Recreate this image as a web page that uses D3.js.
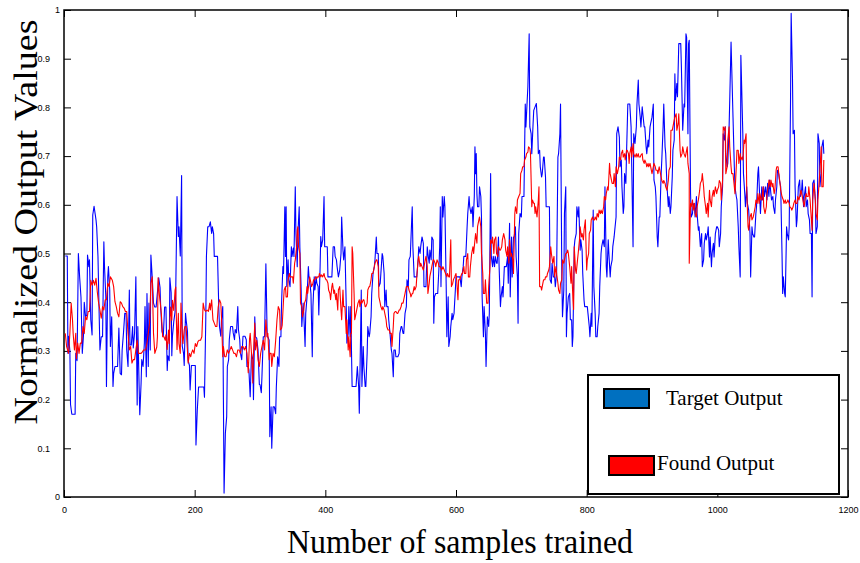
<!DOCTYPE html>
<html>
<head>
<meta charset="utf-8">
<script src="https://cdn.jsdelivr.net/npm/d3@7"></script>
<style>
body { margin: 0; background: #fff; }
svg { display: block; }
</style>
</head>
<body>
<div id="chart"></div>
<script>
// tick values and labels
let xTicks = [0, 200, 400, 600, 800, 1000, 1200];
let yTicks = [0, 0.1, 0.2, 0.3, 0.4, 0.5, 0.6, 0.7, 0.8, 0.9, 1];
let yTickLabels = ["0", "0.1", "0.2", "0.3", "0.4", "0.5", "0.6", "0.7", "0.8", "0.9", "1"];
let seriesNames = ["Target Output", "Found Output"];

// [sample, value]
let target = [
[2,.495],[5,.495],[6,.295],[7,.33],[9,.30],[10,.19],[12,.17],[17,.17],[18,.295],[20,.28],[22,.50],[24,.45],[26,.41],[28,.295],[30,.336],[31,.40],[33,.37],[35,.374],[36,.497],[38,.473],[39,.487],[41,.364],[43,.333],[44,.579],[46,.597],[49,.569],[50,.555],[52,.494],[54,.364],[55,.302],[57,.329],[59,.329],[60,.425],[61,.524],[62,.473],[64,.411],[65,.227],[67,.452],[68,.473],[70,.425],[71,.309],[73,.37],[75,.227],[76,.254],[78,.268],[80,.268],[82,.268],[84,.347],[86,.254],[88,.251],[89,.302],[91,.336],[93,.377],[95,.377],[96,.302],[98,.268],[100,.425],[101,.312],[103,.312],[105,.35],[106,.306],[108,.336],[110,.452],[112,.189],[113,.35],[115,.227],[116,.169],[118,.234],[119,.282],[121,.268],[123,.316],[124,.391],[126,.247],[127,.418],[129,.268],[130,.398],[132,.302],[133,.497],[135,.452],[137,.398],
[139,.39],[141,.39],[145,.45],[147,.43],[148,.39],[150,.34],[152,.33],[154,.39],[156,.39],[158,.26],[159,.29],[161,.28],[162,.45],[164,.42],[165,.29],[166,.33],[168,.36],[170,.38],[171,.42],[173,.617],[175,.535],[176,.555],[178,.495],[180,.66],[181,.31],[183,.295],[184,.27],[186,.377],[187,.363],[189,.34],[190,.28],[192,.27],[193,.22],[195,.27],[198,.27],[201,.27],[202,.107],[204,.178],[206,.226],[208,.226],[211,.226],[214,.226],[215,.205],[217,.364],[218,.494],[220,.555],[222,.555],[224,.565],[226,.541],[227,.555],[229,.541],[230,.494],[233,.494],[235,.494],[237,.384],[238,.35],[240,.33],[241,.364],[243,.391],[244,.2],[245,.008],[247,.131],[249,.165],[250,.268],[252,.282],[253,.323],[255,.35],[256,.35],[258,.35],[259,.337],[261,.323],[262,.344],[264,.337],[266,.391],[267,.344],[269,.323],[270,.296],[272,.282],[274,.33],[275,.33],[277,.33],[279,.323],[280,.268],[282,.268],[283,.261],
[285,.206],[287,.295],[289,.282],[290,.2],[292,.37],[293,.329],[295,.326],[297,.302],[299,.231],[300,.231],[302,.214],[303,.248],[305,.329],[307,.329],[309,.479],[311,.329],[312,.329],[314,.322],[315,.124],[317,.185],[318,.1],[320,.185],[322,.185],[324,.171],[325,.226],[327,.288],[329,.268],[330,.329],[332,.329],[333,.398],[335,.473],[336,.459],[338,.596],[339,.494],[340,.596],[341,.432],[343,.487],[344,.446],[346,.432],[348,.514],[349,.494],[351,.511],[352,.494],[354,.637],[355,.541],[357,.473],[358,.541],[360,.596],[361,.514],[363,.425],[364,.35],[366,.398],[367,.377],[369,.309],[370,.377],[372,.411],[374,.473],[375,.452],[377,.432],[378,.418],[380,.288],[381,.391],[383,.452],[384,.425],[386,.452],[387,.439],[389,.432],[390,.374],[392,.473],[393,.535],[394,.514],[396,.528],[398,.617],[399,.514],[401,.514],[403,.514],[404,.452],[406,.452],[408,.452],[410,.452],[412,.514],[414,.514],[415,.494],[417,.487],[418,.473],[420,.452],[422,.466],[424,.5],[425,.575],[427,.507],[428,.487],
[430,.514],[432,.391],[433,.316],[435,.336],[436,.391],[438,.329],[439,.391],[440,.302],[441,.227],[443,.227],[445,.227],[447,.227],[449,.268],[451,.227],[452,.172],[454,.336],[455,.425],[456,.227],[458,.309],[459,.268],[461,.227],[462,.227],[464,.295],[465,.35],[467,.329],[468,.336],[470,.37],[471,.418],[473,.459],[475,.473],[476,.487],[478,.534],[479,.5],[481,.5],[482,.432],[484,.439],[485,.459],[487,.5],[488,.494],[490,.459],[491,.391],[493,.425],[494,.391],[496,.391],[497,.364],[499,.336],[501,.302],[502,.295],[504,.247],[505,.302],[507,.302],[508,.288],[510,.288],[511,.288],[513,.295],[514,.336],[516,.35],[517,.35],[519,.336],[520,.336],[522,.377],[524,.391],[525,.446],[527,.432],[528,.487],[530,.494],[531,.528],[533,.596],[534,.514],[536,.452],[537,.452],[539,.452],[540,.452],[542,.487],[543,.514],[545,.5],[546,.514],[548,.534],[550,.521],[551,.432],[553,.432],[554,.432],[556,.514],[557,.5],[559,.48],[560,.507],[562,.487],[563,.534],[565,.528],[566,.357],[567,.411],[569,.418],[570,.418],[572,.418],[574,.473],[575,.514],
[576,.596],[577,.432],[579,.617],[580,.575],[582,.617],[583,.596],[585,.432],[586,.329],[588,.411],[589,.309],[591,.329],[592,.35],[594,.377],[595,.364],[597,.377],[599,.425],[600,.452],[602,.452],[603,.452],[605,.452],[606,.452],[608,.432],[609,.452],[611,.473],[612,.494],[614,.494],[615,.494],[617,.555],[618,.582],[620,.617],[621,.596],[623,.582],[625,.596],[626,.555],[628,.617],[629,.719],[630,.664],[631,.705],[632,.623],[633,.596],[635,.596],[636,.637],[638,.617],[639,.575],[640,.411],[642,.329],[643,.391],[645,.336],[646,.268],[648,.37],[650,.35],[651,.377],[653,.664],[654,.494],[656,.473],[657,.494],[659,.473],[660,.494],[662,.48],[663,.48],[665,.534],[666,.473],[668,.391],[669,.411],[671,.432],[672,.411],[674,.473],[676,.473],[677,.473],[679,.494],[680,.439],[682,.562],[683,.411],[685,.534],[686,.452],[688,.534],[689,.534],[691,.555],[692,.494],[694,.452],[695,.357],[696,.541],[698,.582],[700,.575],[701,.617],[703,.617],[704,.617],[706,.807],[707,.76],[709,.815],[710,.842],[712,.951],[713,.76],[715,.746],[716,.705],[718,.767],[719,.794],
[721,.801],[723,.808],[725,.76],[726,.705],[728,.712],[729,.678],[731,.657],[732,.664],[734,.698],[735,.698],[737,.657],[738,.596],[740,.596],[741,.596],[743,.596],[744,.446],[746,.439],[747,.48],[749,.452],[751,.452],[752,.432],[754,.459],[756,.698],[757,.705],[759,.746],[760,.807],[762,.452],[763,.37],[765,.425],[766,.582],[768,.637],[769,.329],[770,.377],[772,.411],[774,.418],[775,.364],[777,.364],[778,.309],[779,.329],[781,.514],[782,.528],[784,.541],[785,.596],[787,.575],[788,.596],[790,.507],[791,.528],[793,.507],[794,.459],[796,.404],[797,.391],[799,.391],[801,.391],[802,.377],[804,.35],[805,.329],[807,.377],[808,.35],[810,.589],[811,.432],[813,.377],[814,.329],[816,.329],[817,.35],[819,.377],[820,.432],[822,.5],[823,.514],[825,.528],[827,.514],[828,.637],[830,.473],[831,.452],[833,.528],[834,.5],[836,.452],[837,.473],[839,.487],[840,.514],[842,.534],[843,.548],[845,.575],[846,.746],[848,.76],[850,.739],[851,.678],[853,.692],[854,.637],[856,.582],[857,.596],[858,.664],[860,.644],[861,.705],[863,.807],[864,.807],
[866,.807],[868,.76],[869,.678],[871,.514],[872,.746],[874,.726],[876,.76],[877,.807],[879,.856],[880,.807],[882,.78],[883,.76],[885,.801],[886,.787],[888,.76],[889,.76],[891,.719],[892,.705],[894,.733],[895,.719],[897,.76],[898,.767],[900,.78],[902,.807],[903,.651],[905,.637],[906,.617],[908,.534],[909,.514],[911,.575],[912,.575],[914,.664],[915,.692],[917,.76],[918,.807],[920,.719],[921,.705],[923,.637],[925,.596],[926,.617],[928,.582],[929,.596],[931,.657],[932,.712],[934,.733],[935,.869],[936,.815],[938,.849],[939,.822],[941,.931],[942,.931],[944,.931],[945,.883],[947,.753],[949,.807],[950,.801],[952,.951],[953,.944],[955,.746],[956,.931],[957,.938],[959,.623],[960,.575],[962,.582],[963,.603],[965,.596],[966,.575],[968,.617],[969,.582],[971,.548],[972,.555],[974,.514],[976,.541],[977,.473],[979,.487],[980,.521],[982,.541],[983,.528],[985,.541],[986,.555],[988,.493],[989,.534],[991,.473],[992,.5],[994,.521],[995,.493],[997,.541],[999,.555],[1000,.555],[1002,.548],[1003,.514],[1005,.541],[1006,.596],[1008,.637],[1009,.746],[1011,.733],
[1012,.76],[1013,.705],[1015,.678],[1016,.685],[1018,.76],[1019,.815],[1021,.934],[1022,.883],[1024,.78],[1026,.678],[1027,.637],[1029,.617],[1030,.61],[1032,.555],[1033,.514],[1035,.452],[1036,.907],[1037,.856],[1039,.746],[1040,.664],[1042,.623],[1043,.596],[1045,.637],[1046,.603],[1048,.589],[1050,.541],[1051,.452],[1053,.555],[1054,.541],[1056,.534],[1057,.534],[1059,.582],[1060,.596],[1062,.664],[1063,.678],[1065,.61],[1066,.582],[1068,.637],[1069,.61],[1071,.637],[1072,.617],[1074,.637],[1076,.61],[1077,.644],[1079,.617],[1080,.651],[1082,.623],[1083,.61],[1085,.617],[1086,.596],[1088,.582],[1089,.61],[1091,.637],[1092,.671],[1094,.664],[1095,.651],[1097,.637],[1099,.5],[1100,.418],[1101,.452],[1103,.418],[1104,.411],[1106,.555],[1107,.541],[1109,.528],[1110,.555],[1112,.808],[1113,.993],[1115,.862],[1116,.746],[1118,.753],[1119,.637],[1121,.555],[1122,.569],[1124,.637],[1126,.651],[1127,.617],[1129,.63],[1130,.651],[1132,.596],[1133,.617],[1135,.637],[1136,.596],[1138,.61],[1139,.582],[1141,.569],[1142,.541],[1144,.541],[1145,.411],[1146,.644],[1148,.651],[1150,.61],[1151,.541],[1153,.555],[1154,.746],[1156,.726],[1157,.637],[1159,.664],[1160,.719],[1162,.733],[1163,.705]
];

let found = [
[2,.336],[4,.309],[7,.295],[9,.336],[11,.398],[13,.364],[14,.336],[16,.302],[18,.336],[19,.284],[21,.316],[23,.295],[25,.316],[27,.316],[29,.35],[31,.336],[33,.37],[35,.364],[37,.381],[39,.381],[41,.445],[43,.435],[45,.445],[47,.435],[49,.449],[51,.421],[53,.398],[55,.384],[57,.367],[59,.391],[61,.384],[63,.405],[65,.405],[67,.439],[69,.432],[71,.452],[74,.445],[76,.432],[78,.401],[80,.391],[82,.377],[84,.37],[86,.401],[88,.398],[90,.391],[92,.388],[94,.381],[96,.381],[98,.336],[100,.302],[102,.309],[104,.275],[106,.282],[108,.282],[110,.302],[112,.322],[114,.295],[116,.295],[118,.295],[120,.298],[122,.302],[125,.302],[127,.316],[129,.336],[131,.357],[133,.439],[135,.452],[137,.336],
[139,.295],[142,.308],[143,.329],[144,.45],[146,.415],[148,.39],[149,.376],[151,.329],[153,.329],[155,.322],[156,.333],[158,.303],[160,.343],[161,.315],[163,.39],[165,.363],[166,.404],[168,.383],[170,.425],[171,.431],[173,.303],[175,.377],[176,.315],[178,.295],[179,.398],[181,.336],[182,.315],[184,.343],[185,.35],[187,.35],[188,.322],[190,.275],[192,.295],[194,.288],[195,.295],[197,.302],[199,.295],[201,.315],[203,.309],[205,.319],[207,.322],[209,.322],[211,.329],[213,.398],[215,.384],[217,.381],[219,.384],[221,.381],[223,.398],[224,.384],[226,.405],[228,.364],[230,.357],[232,.35],[234,.35],[236,.39],[238,.405],[240,.398],[241,.37],[243,.288],[244,.309],[246,.288],[248,.288],[250,.302],[252,.295],[254,.302],[256,.309],[258,.302],[260,.295],[262,.295],[264,.288],[266,.302],[268,.302],[270,.295],[272,.309],[274,.309],[276,.302],[278,.309],[280,.295],[282,.255],[284,.325],
[285,.336],[287,.295],[289,.234],[290,.295],[292,.357],[293,.302],[295,.322],[297,.282],[299,.268],[301,.295],[303,.309],[305,.322],[307,.302],[309,.364],[311,.329],[312,.336],[314,.282],[315,.295],[317,.295],[318,.268],[320,.295],[322,.288],[324,.322],[326,.364],[328,.391],[330,.384],[331,.343],[333,.346],[334,.353],[336,.404],[337,.425],[339,.432],[340,.411],[342,.411],[343,.446],[345,.459],[346,.452],[348,.452],[350,.452],[351,.439],[353,.48],[354,.487],[356,.514],[357,.548],[358,.555],[359,.514],[361,.5],[362,.398],[364,.391],[365,.37],[367,.384],[368,.398],[370,.405],[372,.432],[373,.418],[375,.439],[376,.452],[378,.439],[379,.432],[381,.439],[382,.446],[384,.446],[385,.452],[387,.449],[388,.452],[390,.452],[391,.459],[393,.452],[394,.456],[396,.452],[398,.459],[399,.452],[401,.446],[402,.446],[404,.439],[405,.425],[407,.418],[408,.405],[410,.432],[411,.439],[413,.418],[414,.425],[416,.405],[417,.418],[419,.384],[420,.425],[422,.432],[424,.384],[425,.364],[427,.425],[428,.391],
[430,.391],[432,.336],[433,.364],[435,.302],[436,.329],[438,.288],[439,.336],[440,.336],[441,.514],[442,.5],[444,.418],[445,.364],[447,.377],[449,.391],[450,.398],[452,.405],[453,.391],[455,.405],[456,.398],[458,.405],[459,.405],[461,.391],[462,.391],[464,.398],[465,.425],[467,.432],[468,.432],[470,.446],[471,.459],[473,.459],[475,.473],[476,.48],[478,.487],[479,.487],[481,.473],[482,.411],[484,.398],[485,.391],[487,.384],[488,.391],[490,.384],[491,.377],[493,.364],[494,.35],[496,.343],[498,.343],[499,.336],[501,.336],[502,.309],[504,.35],[505,.377],[507,.381],[508,.381],[510,.377],[511,.377],[513,.384],[514,.384],[516,.391],[517,.398],[519,.398],[520,.405],[522,.418],[524,.432],[525,.432],[527,.432],[528,.425],[530,.418],[531,.411],[533,.418],[534,.418],[536,.432],[537,.425],[539,.432],[540,.452],[542,.487],[543,.494],[545,.473],[546,.48],[548,.473],[550,.466],[551,.473],[553,.487],[554,.494],[556,.473],[557,.418],[559,.439],[560,.453],[562,.466],[563,.473],[565,.487],[566,.487],[568,.48],[569,.473],[571,.487],[573,.48],[574,.473],
[576,.473],[578,.466],[580,.473],[582,.466],[584,.459],[586,.452],[587,.459],[589,.452],[590,.452],[592,.528],[593,.432],[595,.439],[596,.446],[598,.452],[600,.459],[601,.446],[603,.405],[604,.446],[606,.446],[607,.452],[609,.459],[610,.459],[612,.473],[613,.459],[615,.459],[616,.487],[618,.5],[619,.452],[621,.452],[622,.473],[624,.5],[626,.514],[627,.5],[629,.528],[630,.541],[632,.521],[633,.555],[635,.569],[636,.575],[638,.555],[639,.5],[641,.459],[642,.418],[644,.418],[645,.446],[647,.398],[649,.398],[650,.432],[652,.473],[653,.528],[655,.521],[656,.534],[658,.5],[659,.528],[661,.534],[662,.5],[664,.494],[665,.514],[667,.507],[668,.507],[670,.514],[671,.528],[673,.541],[675,.528],[676,.507],[678,.494],[679,.514],[681,.48],[682,.528],[684,.494],[685,.5],[687,.487],[688,.459],[690,.582],[691,.596],[693,.582],[694,.61],[696,.617],[698,.623],[699,.664],[701,.671],[702,.678],[704,.678],[705,.692],[707,.698],[708,.705],[710,.708],[711,.719],[713,.716],[714,.705],[716,.596],[717,.61],[719,.603],[720,.603],
[721,.582],[722,.596],[724,.575],[726,.61],[727,.637],[728,.432],[730,.432],[731,.425],[733,.439],[734,.446],[736,.446],[737,.452],[739,.452],[740,.459],[742,.466],[743,.473],[745,.514],[746,.5],[748,.48],[750,.494],[751,.452],[753,.473],[754,.459],[756,.439],[757,.425],[759,.418],[760,.439],[762,.446],[763,.487],[765,.48],[766,.487],[768,.5],[769,.5],[771,.507],[772,.5],[774,.473],[776,.439],[777,.473],[779,.405],[780,.385],[781,.514],[783,.466],[784,.459],[786,.487],[787,.5],[789,.528],[790,.555],[792,.534],[793,.541],[795,.528],[796,.548],[798,.569],[800,.466],[801,.487],[803,.5],[804,.541],[806,.548],[807,.569],[809,.575],[810,.569],[812,.569],[813,.575],[815,.569],[816,.582],[818,.575],[819,.589],[821,.582],[822,.589],[824,.582],[826,.596],[827,.617],[829,.61],[830,.623],[832,.637],[833,.63],[835,.685],[836,.664],[838,.65],[839,.644],[841,.644],[842,.664],[844,.637],[845,.678],[847,.664],[849,.678],[850,.698],[852,.692],[853,.705],[855,.712],[856,.698],[858,.705],[859,.692],[861,.712],[862,.712],[864,.705],[865,.685],
[866,.705],[868,.719],[869,.698],[871,.726],[872,.705],[874,.698],[876,.705],[877,.698],[879,.705],[880,.698],[882,.698],[883,.702],[885,.705],[886,.692],[888,.685],[889,.692],[891,.685],[892,.678],[894,.685],[895,.678],[897,.685],[898,.678],[900,.664],[902,.678],[903,.685],[905,.678],[906,.671],[908,.671],[909,.664],[911,.678],[912,.671],[914,.657],[915,.65],[917,.644],[918,.65],[920,.644],[921,.637],[923,.63],[925,.65],[926,.671],[928,.678],[929,.753],[931,.753],[932,.76],[934,.774],[935,.78],[937,.787],[938,.753],[940,.767],[941,.787],[943,.712],[944,.698],[946,.705],[947,.719],[949,.705],[951,.698],[952,.705],[954,.719],[955,.685],[957,.664],[957,.48],[959,.603],[960,.596],[962,.61],[963,.589],[965,.603],[966,.582],[968,.575],[969,.596],[971,.61],[973,.63],[974,.644],[976,.65],[977,.664],[979,.637],[980,.617],[982,.596],[983,.582],[985,.603],[986,.575],[988,.63],[989,.61],[991,.596],[992,.617],[994,.63],[995,.617],[997,.637],[999,.623],[1000,.63],[1002,.637],[1003,.65],[1005,.644],[1006,.61],[1008,.65],[1009,.76],[1011,.753],
[1012,.76],[1013,.664],[1015,.678],[1016,.733],[1018,.76],[1019,.719],[1021,.678],[1022,.664],[1024,.664],[1026,.637],[1027,.623],[1029,.678],[1030,.712],[1032,.712],[1033,.685],[1035,.705],[1036,.692],[1038,.698],[1039,.692],[1041,.733],[1042,.726],[1044,.746],[1045,.63],[1047,.555],[1048,.548],[1050,.575],[1052,.582],[1053,.569],[1055,.575],[1056,.582],[1058,.596],[1059,.61],[1061,.603],[1062,.623],[1064,.603],[1065,.623],[1067,.61],[1068,.61],[1070,.637],[1071,.596],[1073,.582],[1075,.596],[1076,.623],[1078,.637],[1079,.651],[1081,.637],[1082,.651],[1084,.637],[1085,.644],[1087,.623],[1088,.63],[1090,.671],[1091,.678],[1093,.678],[1094,.664],[1096,.644],[1097,.63],[1099,.617],[1101,.61],[1102,.603],[1104,.61],[1105,.603],[1107,.606],[1108,.61],[1110,.603],[1111,.596],[1113,.593],[1114,.589],[1116,.596],[1117,.603],[1119,.61],[1120,.603],[1122,.603],[1123,.617],[1125,.61],[1127,.623],[1128,.63],[1130,.617],[1131,.61],[1133,.596],[1134,.61],[1136,.623],[1137,.617],[1139,.617],[1140,.637],[1142,.61],[1143,.589],[1145,.548],[1146,.61],[1148,.644],[1150,.61],[1151,.582],[1153,.569],[1154,.61],[1156,.65],[1157,.671],[1159,.719],[1160,.637],[1162,.637],[1163,.692]
];

let w = 860;
let h = 563;
let plotLeft = 64, plotRight = 848, plotTop = 10, plotBottom = 497;

let svg = d3.select("#chart").append("svg")
    .attr("width", w)
    .attr("height", h)
    .style("background-color", "white");

let x = d3.scaleLinear().domain([0, 1200]).range([plotLeft, plotRight]);
let y = d3.scaleLinear().domain([0, 1]).range([plotBottom, plotTop]);

// ticks on all four sides, pointing inwards
function styleAxis(g) {
    g.select(".domain").remove();
    g.selectAll(".tick line").attr("stroke", "#000").attr("stroke-width", 1);
    g.selectAll("text")
        .attr("fill", "#000")
        .attr("font-family", "Liberation Sans, Arial, sans-serif")
        .attr("font-size", 9);
}

svg.append("g")
    .attr("transform", "translate(0," + plotBottom + ")")
    .call(d3.axisBottom(x).tickValues(xTicks).tickSizeInner(-7).tickSizeOuter(0).tickPadding(10).tickFormat(d3.format("d")))
    .call(styleAxis);

svg.append("g")
    .attr("transform", "translate(0," + plotTop + ")")
    .call(d3.axisTop(x).tickValues(xTicks).tickSizeInner(-7).tickSizeOuter(0).tickFormat(""))
    .call(styleAxis);

svg.append("g")
    .attr("transform", "translate(" + plotLeft + ",0)")
    .call(d3.axisLeft(y).tickValues(yTicks).tickSizeInner(-7).tickSizeOuter(0).tickFormat((d, i) => yTickLabels[i]))
    .call(styleAxis)
    .selectAll("text")
    .attr("x", d => Number.isInteger(d) ? -4 : -14);

svg.append("g")
    .attr("transform", "translate(" + plotRight + ",0)")
    .call(d3.axisRight(y).tickValues(yTicks).tickSizeInner(-7).tickSizeOuter(0).tickFormat(""))
    .call(styleAxis);

// plot frame
svg.append("rect")
    .attr("x", plotLeft)
    .attr("y", plotTop)
    .attr("width", plotRight - plotLeft)
    .attr("height", plotBottom - plotTop)
    .attr("fill", "none")
    .attr("stroke", "#000")
    .attr("stroke-width", 1.5);

let line = d3.line()
    .x(d => x(d[0]))
    .y(d => y(d[1]));

svg.append("path")
    .datum(target)
    .attr("d", line)
    .attr("fill", "none")
    .attr("stroke", "#0000ff")
    .attr("stroke-width", 1.1)
    .attr("stroke-linejoin", "round");

svg.append("path")
    .datum(found)
    .attr("d", line)
    .attr("fill", "none")
    .attr("stroke", "#ff0000")
    .attr("stroke-width", 1.1)
    .attr("stroke-linejoin", "round");

// legend
let legend = svg.append("g");
legend.append("rect")
    .attr("x", 588)
    .attr("y", 375)
    .attr("width", 251)
    .attr("height", 119)
    .attr("fill", "white")
    .attr("stroke", "#000")
    .attr("stroke-width", 2);

let swatchColors = ["#0070c0", "#ff0000"];
let swatchX = [604, 609];
let swatchY = [389, 456];
let labelX = [666, 657];
let labelY = [405, 470];

seriesNames.forEach(function(name, i) {
    legend.append("rect")
        .attr("x", swatchX[i])
        .attr("y", swatchY[i])
        .attr("width", 45)
        .attr("height", 19)
        .attr("fill", swatchColors[i])
        .attr("stroke", "#000")
        .attr("stroke-width", 2);
    legend.append("text")
        .attr("x", labelX[i])
        .attr("y", labelY[i])
        .attr("font-family", "Liberation Serif, Times New Roman, serif")
        .attr("font-size", 21)
        .attr("fill", "#000")
        .text(name);
});

// axis titles
svg.append("text")
    .attr("x", 460)
    .attr("y", 553)
    .attr("text-anchor", "middle")
    .attr("font-family", "Liberation Serif, Times New Roman, serif")
    .attr("font-size", 34)
    .attr("textLength", 346)
    .attr("lengthAdjust", "spacingAndGlyphs")
    .attr("fill", "#000")
    .text("Number of samples trained");

svg.append("text")
    .attr("transform", "translate(37,222) rotate(-90)")
    .attr("text-anchor", "middle")
    .attr("font-family", "Liberation Serif, Times New Roman, serif")
    .attr("font-size", 34)
    .attr("textLength", 405)
    .attr("lengthAdjust", "spacingAndGlyphs")
    .attr("fill", "#000")
    .text("Normalized Output Values");
</script>
</body>
</html>
